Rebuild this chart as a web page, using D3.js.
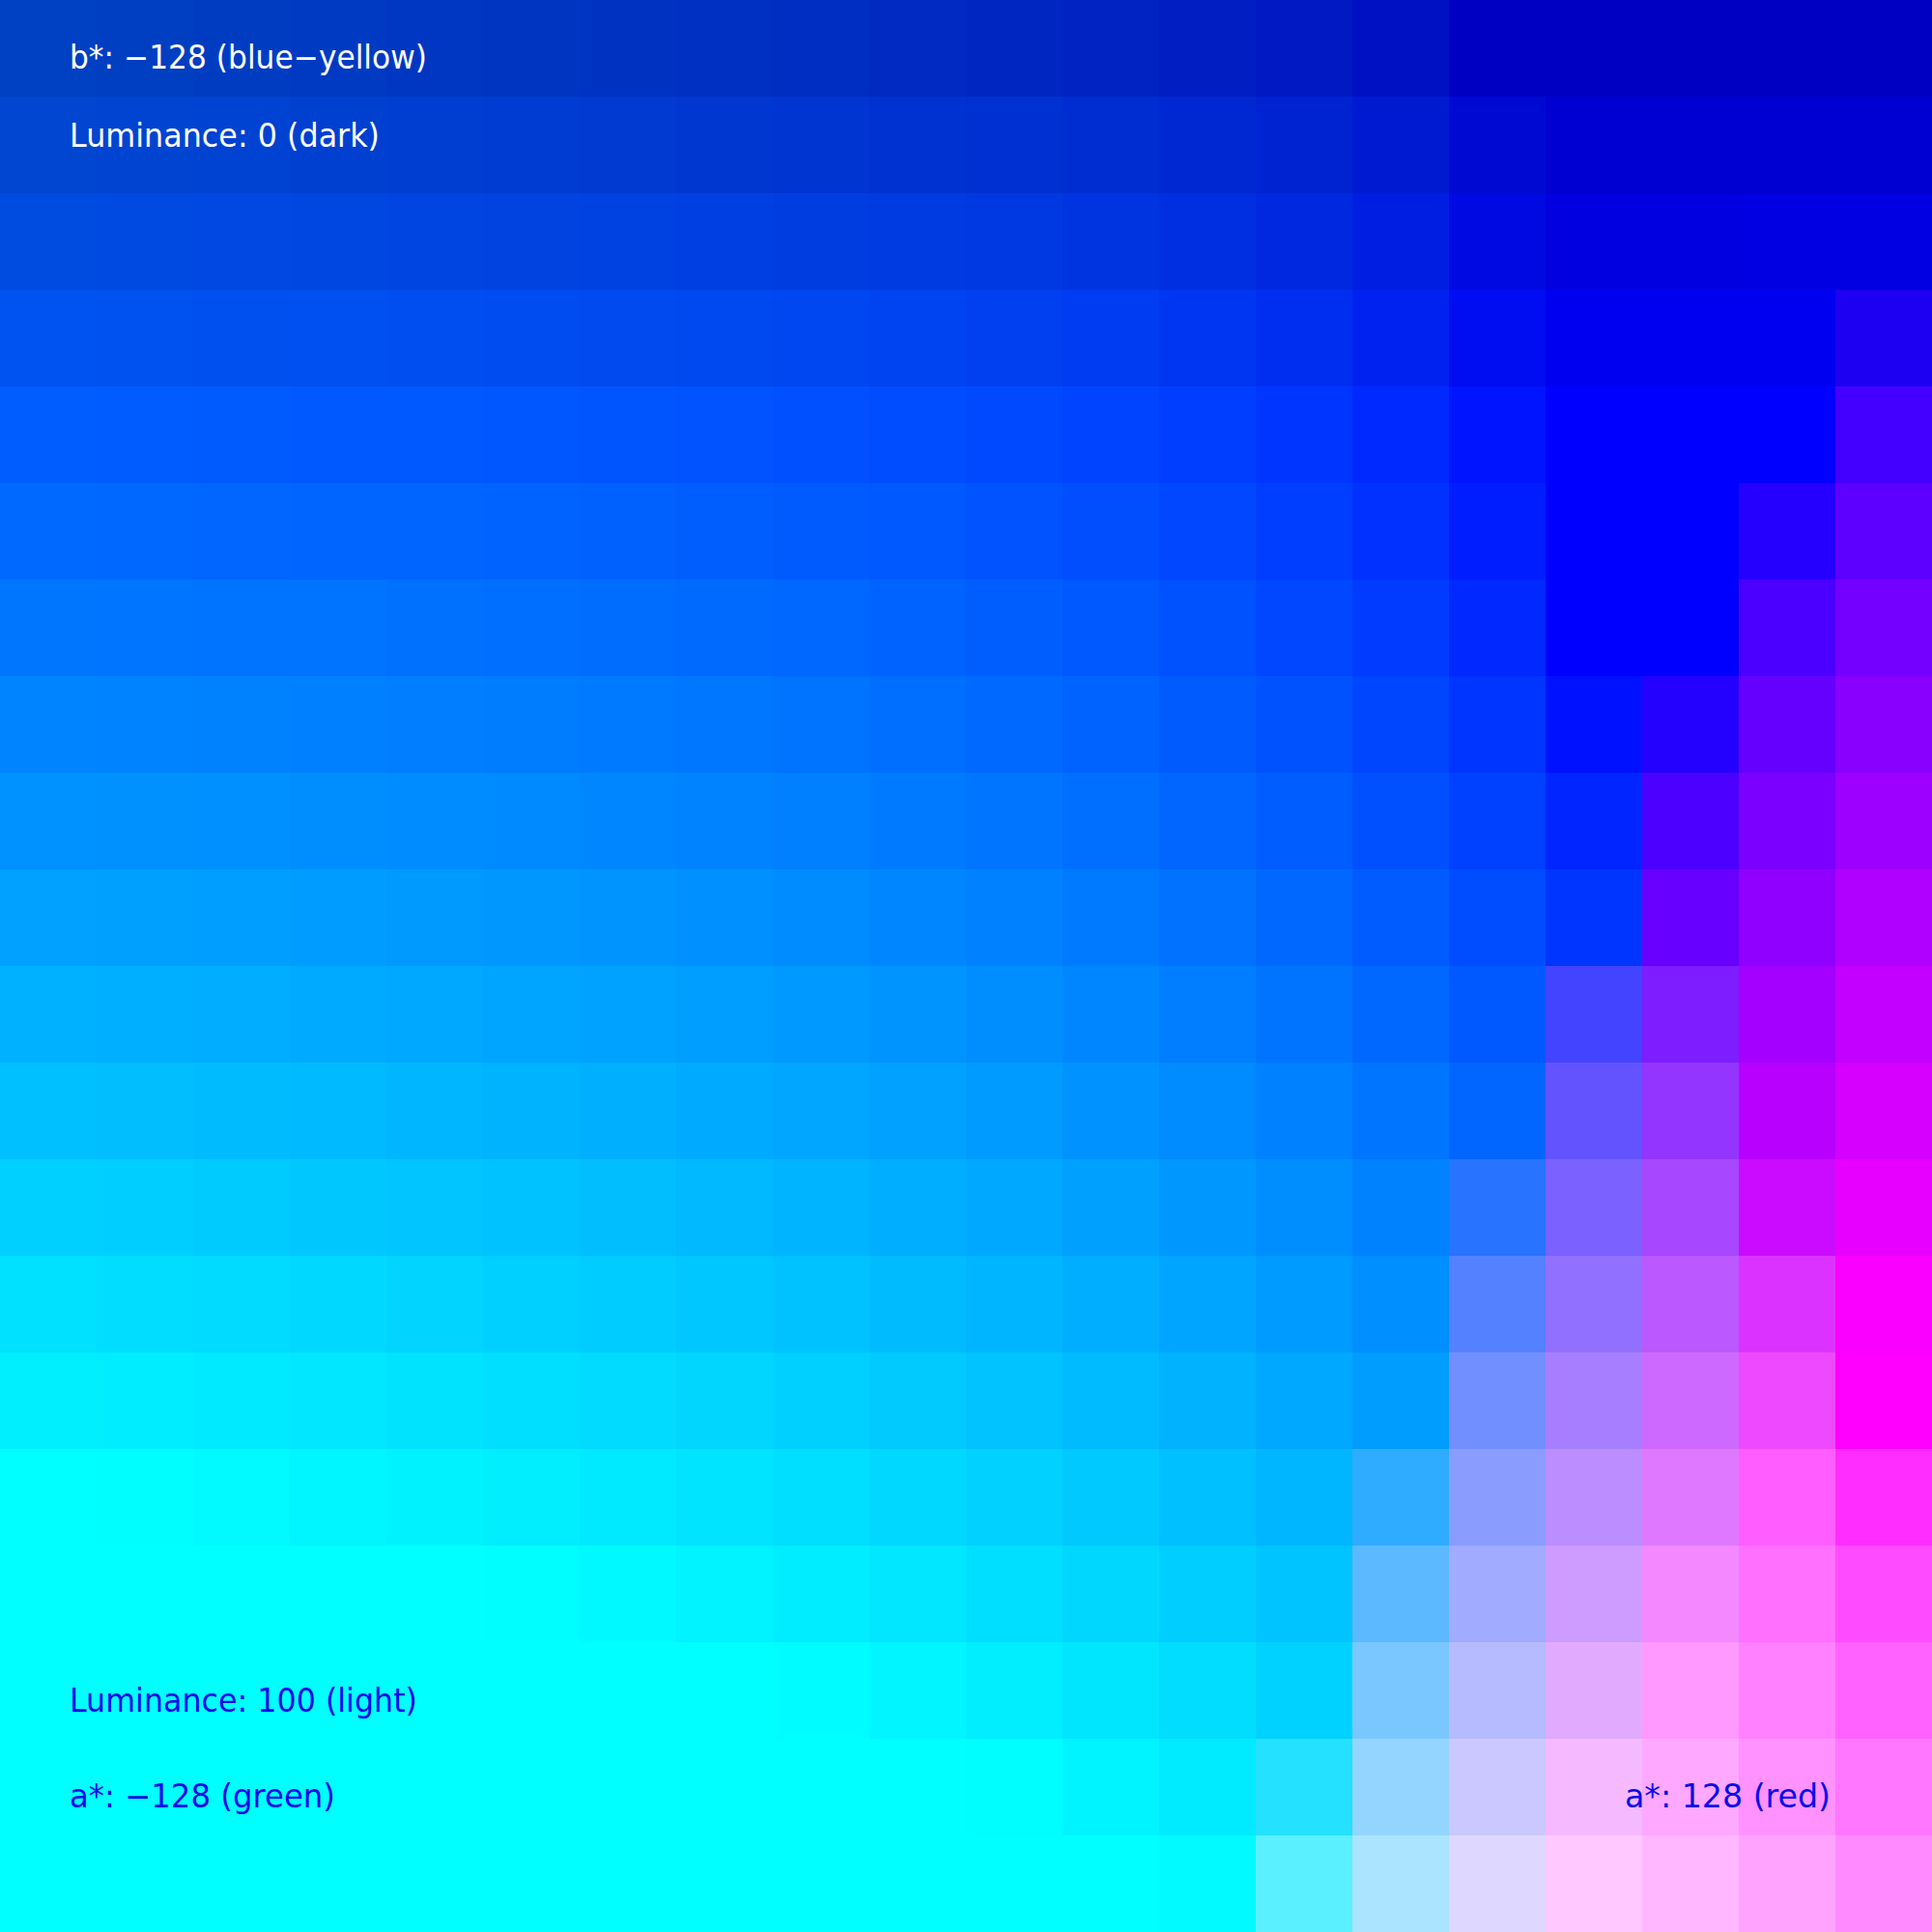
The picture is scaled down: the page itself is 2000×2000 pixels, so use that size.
<!DOCTYPE html>
<html>
<head>
    <title>CIELAB slice at b* = -128</title>
    <script src="https://d3js.org/d3.v7.min.js"></script>
    <style>
        body { margin: 0; background: #fff; }
        .label { font-family: "DejaVu Sans", sans-serif; font-size: 33px; }
    </style>
</head>
<body>
    <div class="chart"></div>
    <script>
        // Grid values: lightness per row (top to bottom), a* per column (left to right)
        const lightness = [0, 5.26, 10.53, 15.79, 21.05, 26.32, 31.58, 36.84, 42.11, 47.37,
                           52.63, 57.89, 63.16, 68.42, 73.68, 78.95, 84.21, 89.47, 94.74, 100];
        const aStar = [-128, -114.5, -101.1, -87.6, -74.1, -60.6, -47.2, -33.7, -20.2, -6.7,
                       6.7, 20.2, 33.7, 47.2, 60.6, 74.1, 87.6, 101.1, 114.5, 128];
        const bStar = -128;

        // Corner labels
        const labelText = ["b*: \u2212128 (blue\u2212yellow)", "Luminance: 0 (dark)",
                           "Luminance: 100 (light)", "a*: \u2212128 (green)", "a*: 128 (red)"];

        const width = 2000, height = 2000;

        // Lab (D65) -> sRGB colour scale, clipped to the displayable range
        function labColor(L, a, b) {
            const fy = (L + 16) / 116, fx = fy + a / 500, fz = fy - b / 200;
            const finv = t => t > 6 / 29 ? t * t * t : 3 * (6 / 29) ** 2 * (t - 4 / 29);
            const X = 0.950456 * finv(fx), Y = finv(fy), Z = 1.088754 * finv(fz);
            const lin = [
                 3.240479 * X - 1.537150 * Y - 0.498535 * Z,
                -0.969256 * X + 1.875991 * Y + 0.041556 * Z,
                 0.055648 * X - 0.204043 * Y + 1.057311 * Z
            ];
            const gam = v => 255 * (v <= 0.0031308 ? 12.92 * v : 1.055 * Math.pow(v, 1 / 2.4) - 0.055);
            const [r, g, bl] = lin.map(gam);
            return d3.rgb(r, g, bl).formatHex();
        }

        const cells = lightness.flatMap(L => aStar.map(a => ({L, a})));

        const svg = d3.select(".chart")
            .append("svg")
            .attr("width", width)
            .attr("height", height)
            .style("display", "block");

        const xScale = d3.scaleBand().domain(aStar).range([0, width]);
        const yScale = d3.scaleBand().domain(lightness).range([0, height]);

        svg.selectAll(".cell")
            .data(cells)
            .enter()
            .append("rect")
            .attr("class", "cell")
            .attr("x", d => xScale(d.a))
            .attr("y", d => yScale(d.L))
            .attr("width", xScale.bandwidth() + 0.5)
            .attr("height", yScale.bandwidth() + 0.5)
            .attr("fill", d => labColor(d.L, d.a, bStar))
            .attr("shape-rendering", "crispEdges");

        // Labels: [x, baseline, width, colour]
        const labelPos = [
            [72, 71, 370, "#ffffff"],
            [72, 152, 321, "#ffffff"],
            [72, 1772, 360, "#0a0aeb"],
            [72, 1871, 275, "#0a0aeb"],
            [1682, 1871, 213, "#0a0aeb"]
        ];

        svg.selectAll(".label")
            .data(labelText)
            .enter()
            .append("text")
            .attr("class", "label")
            .attr("x", (d, i) => labelPos[i][0])
            .attr("y", (d, i) => labelPos[i][1])
            .attr("textLength", (d, i) => labelPos[i][2])
            .attr("lengthAdjust", "spacingAndGlyphs")
            .attr("fill", (d, i) => labelPos[i][3])
            .text(d => d);
    </script>
</body>
</html>
